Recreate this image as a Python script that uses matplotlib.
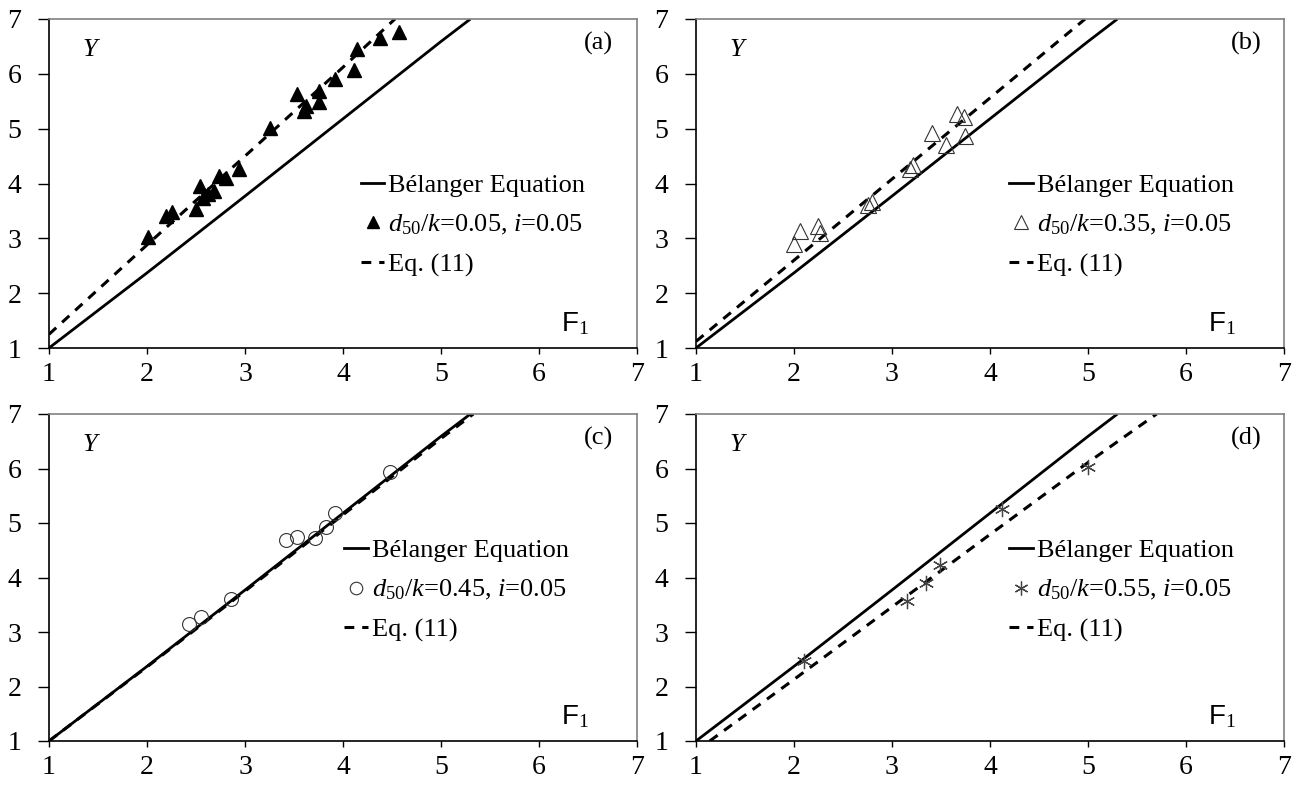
import matplotlib
matplotlib.use("Agg")
import matplotlib.pyplot as plt
from matplotlib.lines import Line2D

plt.rcParams["font.family"] = "Liberation Serif"
plt.rcParams["mathtext.fontset"] = "custom"
plt.rcParams["mathtext.rm"] = "Liberation Serif"
plt.rcParams["mathtext.it"] = "Liberation Serif:italic"
plt.rcParams["mathtext.sf"] = "Liberation Sans"

# Belanger equation
bel_x = [1.0, 2.0, 3.0, 4.0, 5.0, 5.3]
bel_y = [1.0, 2.37, 3.77, 5.18, 6.59, 7.0]

# panel (a) d50/k=0.05
a_x = [2.01, 2.19, 2.25, 2.50, 2.54, 2.57, 2.62, 2.68, 2.73, 2.81, 2.94, 3.26,
       3.53, 3.60, 3.62, 3.75, 3.75, 3.92, 4.11, 4.14, 4.38, 4.57]
a_y = [3.03, 3.40, 3.48, 3.54, 3.95, 3.74, 3.80, 3.86, 4.13, 4.10, 4.27, 5.02,
       5.63, 5.32, 5.41, 5.69, 5.48, 5.90, 6.07, 6.45, 6.66, 6.76]
a_eq_x = [1.0, 2.0, 3.0, 4.0, 4.53]
a_eq_y = [1.25, 2.88, 4.50, 6.12, 7.0]

# panel (b) d50/k=0.35
b_x = [2.06, 2.00, 2.24, 2.27, 2.76, 2.80, 3.18, 3.21, 3.41, 3.55, 3.66, 3.73, 3.74]
b_y = [3.13, 2.90, 3.23, 3.09, 3.60, 3.66, 4.26, 4.33, 4.93, 4.71, 5.26, 5.22, 4.87]
b_eq_x = [1.0, 2.0, 3.0, 4.0, 4.97]
b_eq_y = [1.12, 2.60, 4.08, 5.56, 7.0]

# panel (c) d50/k=0.45
c_x = [2.43, 2.55, 2.86, 3.42, 3.53, 3.71, 3.83, 3.92, 4.48]
c_y = [3.14, 3.27, 3.60, 4.69, 4.75, 4.73, 4.92, 5.19, 5.93]
c_eq_x = [1.0, 2.0, 3.0, 4.0, 5.0, 5.33]
c_eq_y = [1.0, 2.36, 3.75, 5.15, 6.55, 7.0]

# panel (d) d50/k=0.55
d_x = [2.10, 3.15, 3.35, 3.49, 4.12, 5.00]
d_y = [2.47, 3.56, 3.89, 4.23, 5.25, 6.03]
d_eq_x = [1.14, 2.0, 3.0, 4.0, 5.0, 5.70]
d_eq_y = [1.0, 2.13, 3.46, 4.79, 6.11, 7.0]

ticks = [1, 2, 3, 4, 5, 6, 7]
FS = 19
DASH = (0, (3.2, 2.6))

fig = plt.figure(figsize=(13.07, 7.92), dpi=100)
W, H = 1307, 792


def make_ax(left, right, top, bottom):
    return fig.add_axes([left / W, 1 - bottom / H, (right - left) / W, (bottom - top) / H])


panels = [
    dict(box=(49, 637, 19, 348), x=a_x, y=a_y, ex=a_eq_x, ey=a_eq_y, tag="(a)",
         mk=dict(marker="^", color="black", ms=10, mec="black"),
         lab=r"$d_{50}$/$k$=0.05, $i$=0.05", leg=(0.53, 0.53)),
    dict(box=(696, 1284, 19, 348), x=b_x, y=b_y, ex=b_eq_x, ey=b_eq_y, tag="(b)",
         mk=dict(marker="^", mfc="none", mec="#333333", ms=11, mew=0.8),
         lab=r"$d_{50}$/$k$=0.35, $i$=0.05", leg=(0.533, 0.53)),
    dict(box=(49, 637, 414, 741), x=c_x, y=c_y, ex=c_eq_x, ey=c_eq_y, tag="(c)",
         mk=dict(marker="o", mfc="none", mec="#333333", ms=10, mew=0.8),
         lab=r"$d_{50}$/$k$=0.45, $i$=0.05", leg=(0.502, 0.618)),
    dict(box=(696, 1284, 414, 741), x=d_x, y=d_y, ex=d_eq_x, ey=d_eq_y, tag="(d)",
         mk=dict(marker=(6, 2, 0), color="#444444", ms=11, mew=0.9),
         lab=r"$d_{50}$/$k$=0.55, $i$=0.05", leg=(0.533, 0.618)),
]

for p in panels:
    ax = make_ax(*p["box"])
    ax.plot(bel_x, bel_y, color="black", lw=2.0, solid_capstyle="butt")
    ax.plot(p["ex"], p["ey"], color="black", lw=2.2, linestyle=DASH)
    ax.plot(p["x"], p["y"], linestyle="none", **p["mk"])
    ax.set_xlim(1, 7)
    ax.set_ylim(1, 7)
    ax.set_xticks(ticks)
    ax.set_yticks(ticks)
    ax.tick_params(axis="x", direction="out", length=4, width=1, labelsize=20, pad=6)
    ax.tick_params(axis="y", direction="out", length=8, width=1, labelsize=20, pad=12)
    for s in ["left", "bottom"]:
        ax.spines[s].set_color("black")
        ax.spines[s].set_linewidth(1.2)
    for s in ["top", "right"]:
        ax.spines[s].set_color("#808080")
        ax.spines[s].set_linewidth(1.2)
    ax.text(0.07, 0.905, "Y", transform=ax.transAxes, fontsize=FS, style="italic",
            ha="center", va="center")
    ax.text(0.935, 0.925, p["tag"], transform=ax.transAxes, fontsize=FS,
            ha="center", va="center")
    ax.text(0.895, 0.075, r"$\mathsf{F}_{\mathrm{1}}$", transform=ax.transAxes,
            fontsize=20, ha="center", va="center")

    handles = [
        Line2D([], [], color="black", lw=2.0),
        Line2D([], [], linestyle="none", **dict(p["mk"], ms=p["mk"]["ms"] - 1)),
        Line2D([], [], color="black", lw=2.2, linestyle=DASH),
    ]
    ax.legend(handles, ["Bélanger Equation", p["lab"], "Eq. (11)"],
              loc="upper left", bbox_to_anchor=p["leg"], frameon=False,
              fontsize=FS, handlelength=0.9, handletextpad=0.15,
              labelspacing=0.6, borderaxespad=0, borderpad=0)

fig.savefig("out.png", dpi=100)
